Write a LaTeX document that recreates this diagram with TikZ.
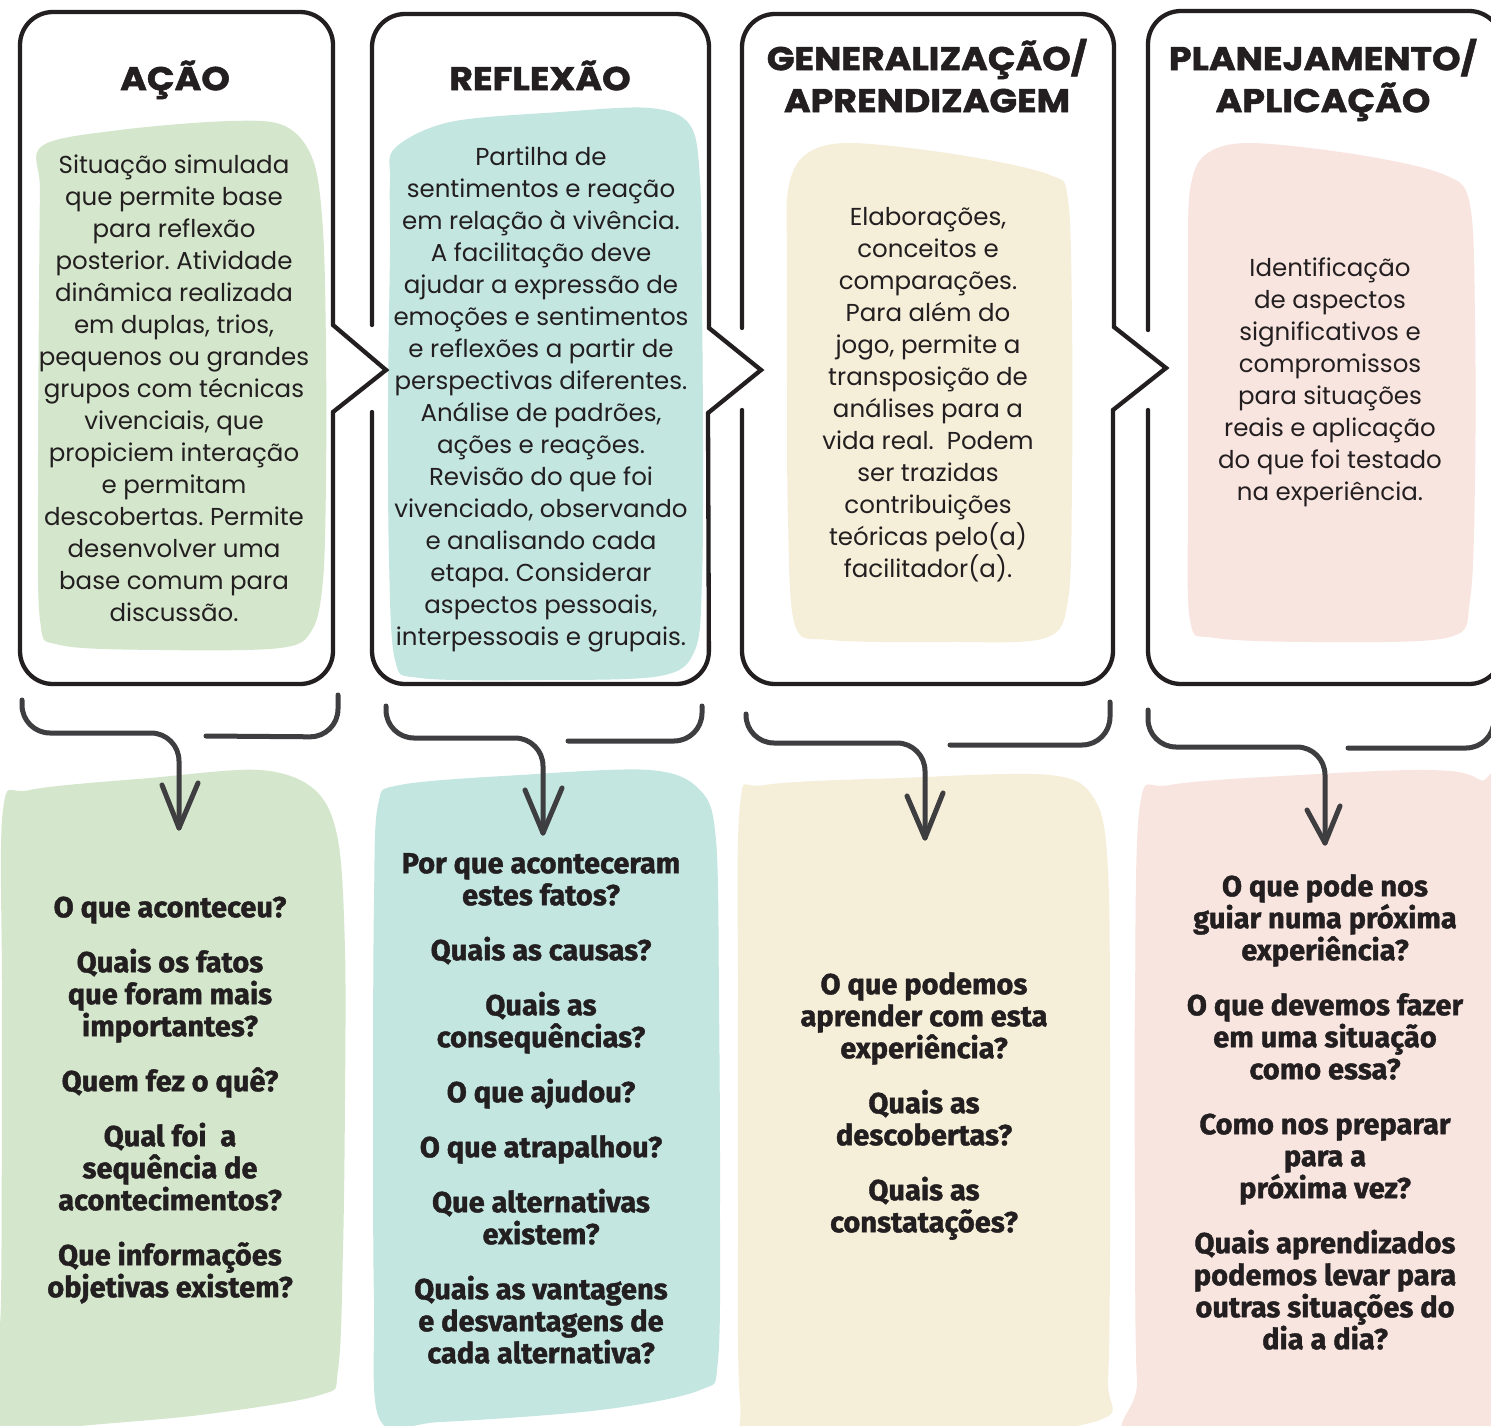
\documentclass[tikz,border=0pt]{standalone}
\usepackage{fontspec}
\setmainfont{Poppins}
\newfontfamily\qfont{Fira Sans Bold}[FakeBold=1.4]
\newfontfamily\ttlfont{Poppins Bold}[FakeStretch=1.1, FakeBold=1.6]
\definecolor{gfill}{HTML}{D4E7CC}
\definecolor{tfill}{HTML}{C3E6E1}
\definecolor{bfill}{HTML}{F5EED9}
\definecolor{pfill}{HTML}{F9E5E0}
\definecolor{ink}{HTML}{231F20}
\definecolor{arr}{HTML}{3E3D40}
\newcommand{\myTopStrut}[1]{\rule{0pt}{#1}}
\frenchspacing
\begin{document}
\begin{tikzpicture}[x=1pt,y=-1pt,
  frame/.style={draw=ink, line width=4.3pt, line cap=round, line join=round, rounded corners=33},
  chev/.style={draw=ink, line width=4.3pt, line cap=round, line join=miter},
  brk/.style={draw=arr, line width=5pt, line cap=round, line join=round, rounded corners=28},
  tip/.style={draw=arr, line width=5pt, line cap=round, line join=round},
  ttl/.style={font=\ttlfont\fontsize{33}{42}\selectfont, text=ink, align=center, inner sep=0, anchor=north},
  body/.style={font=\fontsize{24.5}{32}\selectfont, text=ink, align=center, inner sep=0, anchor=north},
  qst/.style={font=\qfont\fontsize{29}{32}\selectfont, text=ink, align=center, inner sep=0, anchor=north}]
\useasboundingbox (0,0) rectangle (1491,1425);
\fill[white] (0,0) rectangle (1491,1425);

% top blobs
\fill[gfill] plot[smooth cycle, tension=0.55] coordinates {(42,146) (120,130) (230,121) (285,126) (313,160) (323,230) (326,350) (326,480) (323,580) (312,630) (280,648) (160,650) (60,645) (40,620) (38,480) (39,300) (40,190)};
\fill[tfill] plot[smooth cycle, tension=0.55] coordinates {(395,148) (450,122) (560,112) (650,108) (690,125) (700,180) (702,300) (703,450) (702,580) (695,650) (660,676) (540,680) (420,678) (395,660) (389,560) (388,400) (390,250) (390,180)};
\fill[bfill] plot[smooth cycle, tension=0.55] coordinates {(788,190) (805,155) (850,143) (960,155) (1050,175) (1068,200) (1072,320) (1072,480) (1068,600) (1045,638) (950,642) (830,640) (795,625) (788,520) (787,380) (787,260)};
\fill[pfill] plot[smooth cycle, tension=0.55] coordinates {(1190,190) (1205,155) (1250,143) (1360,155) (1445,175) (1470,205) (1475,320) (1475,480) (1470,600) (1450,637) (1330,642) (1215,638) (1190,620) (1188,500) (1188,360) (1188,260)};

% bottom blobs
\fill[gfill] plot[smooth cycle, tension=0.55] coordinates {(3,810) (30,790) (150,778) (260,770) (315,790) (338,840) (345,950) (345,1100) (343,1250) (338,1370) (320,1395) (200,1415) (60,1428) (-5,1440) (1,1300) (2,1000)};
\fill[tfill] plot[smooth cycle, tension=0.55] coordinates {(378,805) (400,785) (520,775) (650,770) (700,790) (716,840) (719,1000) (720,1200) (718,1360) (700,1390) (600,1410) (440,1422) (380,1420) (374,1300) (373,1100) (374,900)};
\fill[bfill] plot[smooth cycle, tension=0.55] coordinates {(740,805) (765,785) (900,778) (1050,775) (1095,800) (1108,870) (1110,1050) (1110,1250) (1108,1380) (1100,1420) (950,1440) (760,1440) (740,1400) (738,1200) (738,1000)};
\fill[pfill] plot[smooth cycle, tension=0.55] coordinates {(1140,805) (1170,785) (1300,775) (1430,770) (1480,780) (1510,820) (1510,1440) (1150,1440) (1137,1380) (1135,1200) (1135,1000)};

% frames
\draw[frame] (333,325) -- (333,12) -- (20,12) -- (20,684) -- (333,684) -- (333,412);
\draw[chev] (333,412) -- (386,370) -- (333,325);
\draw[frame] (372,325) -- (372,14) -- (709,14) -- (709,328);
\draw[chev] (709,328) -- (761,370) -- (708,413);
\draw[frame] (708,413) -- (709,684) -- (372,684) -- (372,412);
\draw[frame] (742,328) -- (742,14) -- (1114,14) -- (1114,327);
\draw[chev] (1114,327) -- (1166,368) -- (1113,410);
\draw[frame] (1113,410) -- (1113,684) -- (742,684) -- (742,410);
\draw[frame] (1148,330) -- (1148,11) -- (1502,11) -- (1502,684) -- (1148,684) -- (1148,410);

% titles
\node[ttl] (title1) at (175,54) {\myTopStrut{36pt}AÇÃO};
\node[ttl] (title2) at (540,54) {\myTopStrut{36pt}REFLEXÃO};
\node[ttl] (title3) at (927,34) {\myTopStrut{36pt}GENERALIZAÇÃO/\\APRENDIZAGEM};
\node[ttl] (title4) at (1323,34) {\myTopStrut{36pt}PLANEJAMENTO/\\APLICAÇÃO};

% body texts
\node[body] (body1) at (174,143) {\myTopStrut{30pt}Situação simulada\\que permite base\\para reflexão\\posterior. Atividade\\dinâmica realizada\\em duplas, trios,\\pequenos ou grandes\\grupos com técnicas\\vivenciais, que\\propiciem interação\\e permitam\\descobertas. Permite\\desenvolver uma\\base comum para\\discussão.};
\node[body] (body2) at (541,135) {\myTopStrut{30pt}Partilha de\\sentimentos e reação\\em relação à vivência.\\A facilitação deve\\ajudar a expressão de\\emoções e sentimentos\\e reflexões a partir de\\perspectivas diferentes.\\Análise de padrões,\\ações e reações.\\Revisão do que foi\\vivenciado, observando\\e analisando cada\\etapa. Considerar\\aspectos pessoais,\\interpessoais e grupais.};
\node[body] (body3) at (928,195) {\myTopStrut{30pt}Elaborações,\\conceitos e\\comparações.\\Para além do\\jogo, permite a\\transposição de\\análises para a\\vida real.\ \ Podem\\ser trazidas\\contribuições\\teóricas pelo(a)\\facilitador(a).};
\node[body] (body4) at (1330,246) {\myTopStrut{30pt}Identificação\\de aspectos\\significativos e\\compromissos\\para situações\\reais e aplicação\\do que foi testado\\na experiência.};

% questions
\node[qst] (q1) at (170,887) {\myTopStrut{30pt}O que aconteceu?\\[23pt]Quais os fatos\\que foram mais\\importantes?\\[23pt]Quem fez o quê?\\[23pt]Qual foi\ \ a\\sequência de\\acontecimentos?\\[23pt]Que informações\\objetivas existem?};
\node[qst] (q2) at (541,843) {\myTopStrut{30pt}Por que aconteceram\\estes fatos?\\[23pt]Quais as causas?\\[23pt]Quais as\\consequências?\\[23pt]O que ajudou?\\[23pt]O que atrapalhou?\\[23pt]Que alternativas\\existem?\\[23pt]Quais as vantagens\\e desvantagens de\\cada alternativa?};
\node[qst] (q3) at (924,964) {\myTopStrut{30pt}O que podemos\\aprender com esta\\experiência?\\[23pt]Quais as\\descobertas?\\[23pt]Quais as\\constatações?};
\node[qst] (q4) at (1325,866) {\myTopStrut{30pt}O que pode nos\\guiar numa próxima\\experiência?\\[23pt]O que devemos fazer\\em uma situação\\como essa?\\[23pt]Como nos preparar\\para a\\próxima vez?\\[23pt]Quais aprendizados\\podemos levar para\\outras situações do\\dia a dia?};

% bracket connectors
\coordinate (s1) at (22,700); \coordinate (tip1) at (179,828);
\coordinate (r1a) at (206,736); \coordinate (r1b) at (338,695);
\draw[brk] (s1) -- (22,733) -- (179,733) -- (tip1);
\draw[brk] (r1a) -- (338,737) -- (r1b);
\draw[tip] (tip1) ++(-17,-43) -- (tip1) -- ++(19,-45);

\coordinate (s2) at (386,706); \coordinate (tip2) at (543,833);
\coordinate (r2a) at (568,741); \coordinate (r2b) at (702,706);
\draw[brk] (s2) -- (386,738) -- (543,738) -- (tip2);
\draw[brk] (r2a) -- (702,741) -- (r2b);
\draw[tip] (tip2) ++(-18,-43) -- (tip2) -- ++(19,-45);

\coordinate (s3) at (746,714); \coordinate (tip3) at (925,838);
\coordinate (r3a) at (950,745); \coordinate (r3b) at (1110,702);
\draw[brk] (s3) -- (746,743) -- (925,743) -- (tip3);
\draw[brk] (r3a) -- (1110,745) -- (r3b);
\draw[tip] (tip3) ++(-18,-42) -- (tip3) -- ++(18,-45);

\coordinate (s4) at (1148,710); \coordinate (tip4) at (1325,843);
\coordinate (r4a) at (1348,748); \coordinate (r4b) at (1494,705);
\draw[brk] (s4) -- (1148,747) -- (1325,747) -- (tip4);
\draw[brk] (r4a) -- (1494,748) -- (r4b);
\draw[tip] (tip4) ++(-18,-33) -- (tip4) -- ++(15,-37);
\end{tikzpicture}
\end{document}
